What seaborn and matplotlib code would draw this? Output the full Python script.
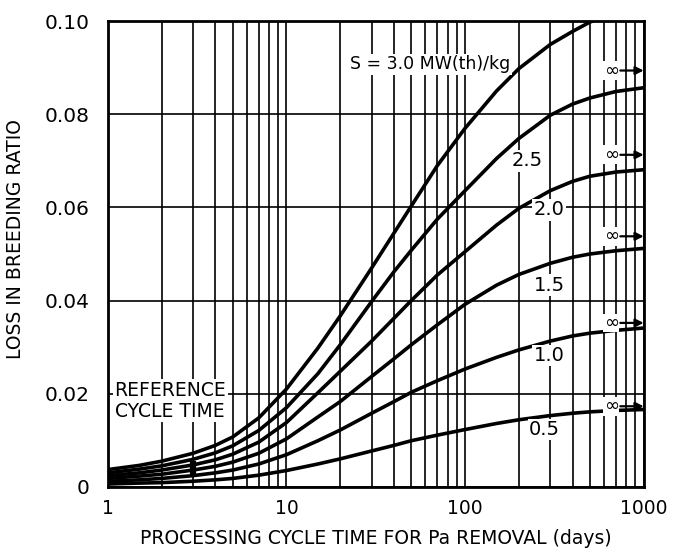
import numpy as np
import pandas as pd
import matplotlib
matplotlib.use("Agg")
import matplotlib.pyplot as plt
import matplotlib.ticker as mticker
import seaborn as sns

# =============================================================================
# DATA (log-x, days vs. loss in breeding ratio)
# =============================================================================

days = [1, 1.5, 2, 3, 4, 5, 7, 10, 15, 20, 30, 40, 50, 70, 100, 150, 200, 300,
        400, 500, 700, 1000]

loss_s30 = [.0037, .0046, .0055, .0072, .0089, .0107, .0148, .0210, .0298, .0367, .0470,
            .0545, .0603, .0690, .0770, .0850, .0898, .0950, .0978, .0998, .1020, .1037]
loss_s25 = [.0030, .0038, .0045, .0059, .0073, .0088, .0121, .0170, .0243, .0305, .0398,
            .0462, .0508, .0575, .0636, .0705, .0748, .0798, .0822, .0835, .0849, .0857]
loss_s20 = [.0024, .0030, .0036, .0047, .0058, .0070, .0096, .0138, .0202, .0248, .0313,
            .0362, .0400, .0455, .0505, .0562, .0598, .0636, .0656, .0667, .0676, .0681]
loss_s15 = [.0018, .0023, .0027, .0036, .0044, .0053, .0072, .0103, .0150, .0183, .0237,
            .0275, .0305, .0348, .0392, .0433, .0456, .0480, .0493, .0500, .0507, .0512]
loss_s10 = [.0012, .0015, .0018, .0024, .0030, .0036, .0049, .0069, .0099, .0122, .0158,
            .0183, .0203, .0228, .0253, .0278, .0294, .0313, .0324, .0330, .0336, .0341]
loss_s05 = [.0006, .0008, .0009, .0012, .0015, .0018, .0025, .0035, .0049, .0060, .0077,
            .0089, .0099, .0111, .0123, .0136, .0144, .0153, .0158, .0161, .0164, .0166]

specific_power = ["3.0", "2.5", "2.0", "1.5", "1.0", "0.5"]
curve_labels = ["S = 3.0 MW(th)/kg", "2.5", "2.0", "1.5", "1.0", "0.5"]
label_days = [64, 222, 295, 298, 295, 279]
label_loss = [0.0907, 0.0700, 0.0595, 0.0433, 0.0282, 0.0123]

# asymptotic (infinite cycle time) values, marked with arrows on the right edge
inf_power = ["2.5", "2.0", "1.5", "1.0", "0.5"]
inf_loss = [0.0894, 0.0713, 0.0538, 0.0352, 0.0173]

reference_days = 3
reference_span = [0.0022, 0.0055]

y_ticks = [0, 0.02, 0.04, 0.06, 0.08, 0.10]
y_tick_labels = ["0", "0.02", "0.04", "0.06", "0.08", "0.10"]
x_ticks = [1, 10, 100, 1000]
x_tick_labels = ["1", "10", "100", "1000"]

# long-form table for seaborn
all_loss = [loss_s30, loss_s25, loss_s20, loss_s15, loss_s10, loss_s05]
df = pd.DataFrame({
    "days": days * len(all_loss),
    "loss": [v for series in all_loss for v in series],
    "S": [s for s in specific_power for _ in days],
})

# =============================================================================
# PLOT
# =============================================================================

sns.set_style("white")
plt.rcParams["font.family"] = ["DejaVu Sans"]
plt.rcParams["text.color"] = "black"
plt.rcParams["axes.labelcolor"] = "black"
plt.rcParams["xtick.color"] = "black"
plt.rcParams["ytick.color"] = "black"

fig = plt.figure(figsize=(6.74, 5.57), dpi=100)
ax = fig.add_axes([0.160, 0.126, 0.795, 0.836])

sns.lineplot(data=df, x="days", y="loss", hue="S", hue_order=specific_power,
             palette=["black"] * len(specific_power), linewidth=2.6,
             estimator=None, legend=False, ax=ax, zorder=3)

ax.set_xscale("log")
ax.set_xlim(1, 1000)
ax.set_ylim(0, 0.10)

# dense log graph-paper grid
ax.xaxis.set_major_locator(mticker.FixedLocator(x_ticks))
ax.xaxis.set_minor_locator(mticker.LogLocator(base=10, subs=np.arange(2, 10)))
ax.xaxis.set_minor_formatter(mticker.NullFormatter())
ax.set_xticks(x_ticks)
ax.set_xticklabels(x_tick_labels, fontsize=13.5)
ax.set_yticks(y_ticks)
ax.set_yticklabels(y_tick_labels, fontsize=14.5)
ax.grid(which="both", color="black", linewidth=1.2, zorder=1)
ax.set_axisbelow(True)
ax.tick_params(axis="x", which="both", length=0, pad=9)
ax.tick_params(axis="y", which="both", length=0, pad=13)
for sp in ax.spines.values():
    sp.set_color("black")
    sp.set_linewidth(2.0)

# curve labels
for lbl, x, y in zip(curve_labels, label_days, label_loss):
    size = 12.5 if lbl.startswith("S") else 14
    ax.text(x, y, lbl, ha="center", va="center", fontsize=size, zorder=4,
            bbox=dict(facecolor="white", edgecolor="none", pad=1.0))

# infinity markers
for y in inf_loss:
    ax.annotate("", xy=(1000, y), xytext=(740, y),
                arrowprops=dict(arrowstyle="-|>", color="black", lw=1.6,
                                mutation_scale=12, shrinkA=0, shrinkB=0),
                zorder=4)
    ax.text(725, y, "∞", ha="right", va="center", fontsize=13, zorder=4,
            bbox=dict(facecolor="white", edgecolor="none", pad=0.3))

# reference cycle time
ax.plot([reference_days, reference_days], reference_span, color="black",
        linewidth=4.5, solid_capstyle="butt", zorder=4)
ax.text(1.09, 0.0185, "REFERENCE\nCYCLE TIME", ha="left", va="center",
        fontsize=13.5, linespacing=1.15, zorder=4,
        bbox=dict(facecolor="white", edgecolor="none", pad=1.0))

ax.set_xlabel("PROCESSING CYCLE TIME FOR Pa REMOVAL (days)", fontsize=13.5, labelpad=8)
ax.set_ylabel("LOSS IN BREEDING RATIO", fontsize=13.5)
ax.yaxis.set_label_coords(-0.155, 0.533)

fig.savefig("out.png", dpi=100)
